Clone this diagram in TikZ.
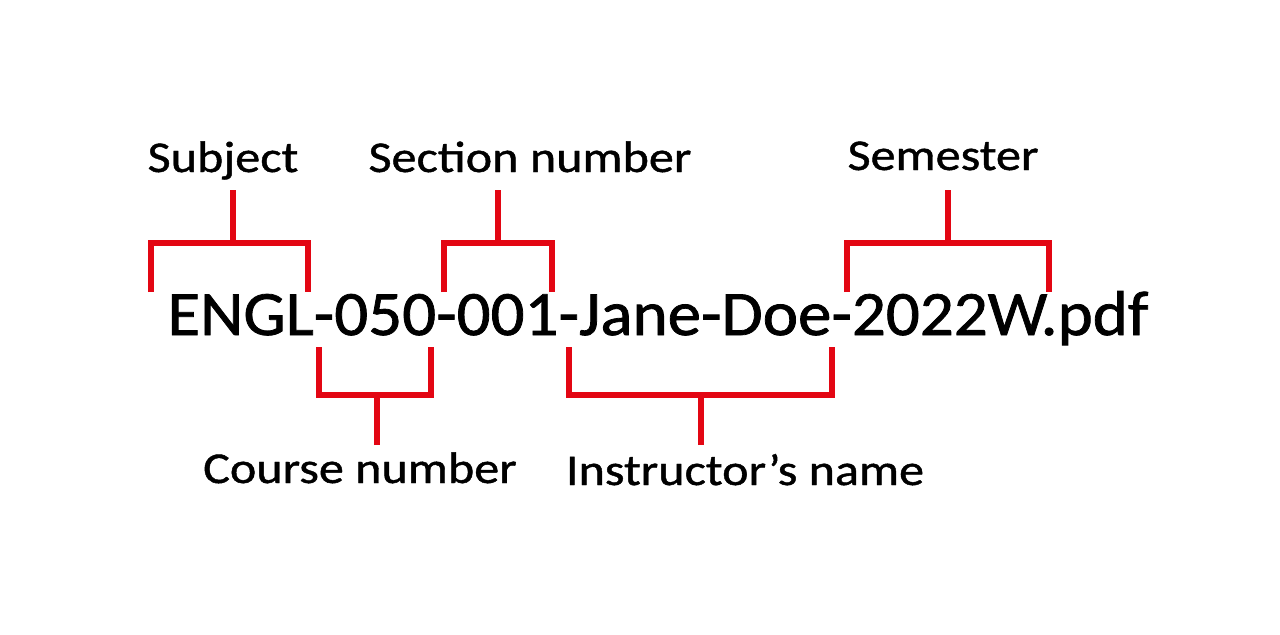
\documentclass[tikz,border=0pt]{standalone}
\usepackage{fontspec}
\setmainfont{Carlito}
\newfontfamily\filefont{Carlito}[FakeStretch=1.06, FakeBold=1.2]
\newfontfamily\partfont{Carlito}[FakeStretch=1.14, FakeBold=1.0]
\usepackage{tikz}
\usetikzlibrary{positioning}
\definecolor{fnRed}{HTML}{E30613}
\tikzset{
  brk/.style={draw=fnRed, line width=3pt, line join=miter},
  fname/.style={inner sep=0pt, anchor=base west, font=\filefont\fontsize{31.6}{38}\selectfont},
  part/.style={inner sep=0pt, anchor=base, font=\partfont\fontsize{22}{26}\selectfont}
}

\begin{document}
\begin{tikzpicture}[x=0.5pt,y=-0.5pt]
  \useasboundingbox (0,0) rectangle (1280,634);
  \node[fname] (file) at (167,335) {ENGL-050-001-Jane-Doe-2022W.pdf};
  % brackets above the name
  \foreach \n/\l/\r/\m/\t/\tx/\ty in {subj/151/308/233/Subject/223/172,
      sect/444/552/498/Section number/530/172,
      sem/847/1049/948/Semester/943/170}{
    \node[part] (\n) at (\tx,\ty) {\t};
    \coordinate (\n l) at (\l,292);
    \coordinate (\n r) at (\r,292);
    \coordinate (\n m) at (\m,243);
    \coordinate (\n s) at (\m,190);
    \draw[brk] (\n l) |- (\n m) -| (\n r);
    \draw[brk] (\n s) -- (\n m);
  }
  % brackets below the name
  \foreach \n/\l/\r/\m/\t/\tx/\ty in {crs/319/431/377/Course number/360/483,
      inst/569/832/701/Instructor’s name/745/485}{
    \node[part] (\n) at (\tx,\ty) {\t};
    \coordinate (\n l) at (\l,347);
    \coordinate (\n r) at (\r,347);
    \coordinate (\n m) at (\m,395);
    \coordinate (\n s) at (\m,445);
    \draw[brk] (\n l) |- (\n m) -| (\n r);
    \draw[brk] (\n s) -- (\n m);
  }
\end{tikzpicture}
\end{document}
